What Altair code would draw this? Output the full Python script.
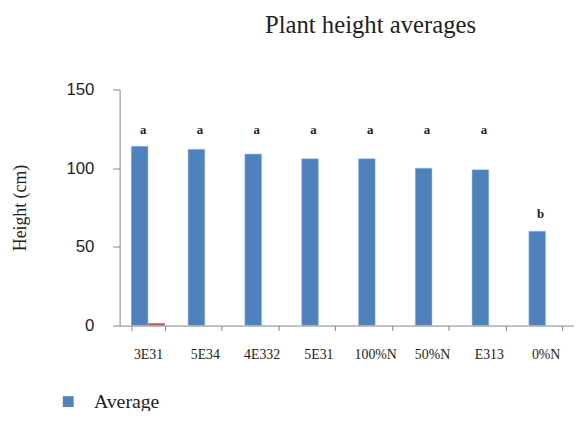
import altair as alt
import pandas as pd

categories = ["3E31", "5E34", "4E332", "5E31", "100%N", "50%N", "E313", "0%N"]
averages = [114, 112, 109, 106, 106, 100, 99, 60]
std_devs = [1.5, 0, 0, 0, 0, 0, 0, 0]
letters = ["a", "a", "a", "a", "a", "a", "a", "b"]
letter_heights = [124, 124, 124, 124, 124, 124, 124, 71]
series_names = ["Average", "Std"]

rows = []
for c, a, s in zip(categories, averages, std_devs):
    rows.append({"cat": c, "series": series_names[0], "value": a})
    rows.append({"cat": c, "series": series_names[1], "value": s})
bars_df = pd.DataFrame(rows)
letters_df = pd.DataFrame({"cat": categories, "letter": letters, "ly": letter_heights})

SERIF = "Liberation Serif"
SANS = "Liberation Sans"
GRAY = "#868686"

xscale = alt.Scale(domain=categories, paddingInner=0.41, paddingOuter=0.205)
yscale = alt.Scale(domain=[0, 150])

bars = alt.Chart(bars_df).mark_bar(stroke="#a9c4e6", strokeWidth=0.5).encode(
    x=alt.X("cat:N", scale=xscale, sort=categories,
            axis=alt.Axis(title=None, labelAngle=0, labelFont=SERIF, labelFontSize=14,
                          labelColor="#222222", labelPadding=17,
                          tickBand="extent", tickSize=5, tickColor=GRAY,
                          domainColor=GRAY, grid=False)),
    xOffset=alt.XOffset("series:N", scale=alt.Scale(domain=series_names, paddingInner=0, paddingOuter=0)),
    y=alt.Y("value:Q", scale=yscale,
            axis=alt.Axis(title="Height (cm)", values=[0, 50, 100, 150], labelFont=SANS,
                          labelFontSize=17, labelColor="#222222", labelPadding=19,
                          tickSize=7, tickColor=GRAY, domainColor=GRAY, grid=False,
                          titleFont=SERIF, titleFontSize=18, titleFontWeight="normal",
                          titleColor="#222222", titlePadding=37)),
    color=alt.Color("series:N",
                    scale=alt.Scale(domain=series_names, range=["#4F81BD", "#C0504D"]),
                    legend=alt.Legend(title=None, values=["Average"], orient="none",
                                      legendX=-62, legendY=306, symbolType="square",
                                      symbolSize=121, symbolStrokeWidth=0,
                                      labelFont=SERIF, labelFontSize=20,
                                      labelColor="#222222", labelOffset=16)),
)

text = alt.Chart(letters_df).mark_text(font=SERIF, fontSize=13, fontWeight="bold",
                                       color="#222222", dx=-5).encode(
    x=alt.X("cat:N", scale=xscale, sort=categories),
    y=alt.Y("ly:Q", scale=yscale),
    text="letter:N",
)

chart = alt.layer(bars, text).properties(
    width=460,
    height=239,
    autosize=alt.AutoSizeParams(type="none"),
    padding={"left": 113, "top": 80, "right": 0, "bottom": 84},
    title=alt.TitleParams("Plant height averages", font=SERIF, fontSize=25,
                          fontWeight="normal", color="#222222", anchor="middle",
                          dx=24, offset=43),
).configure_view(stroke=None)

chart.save("out.html", embed_options={"renderer": "svg", "actions": False})
